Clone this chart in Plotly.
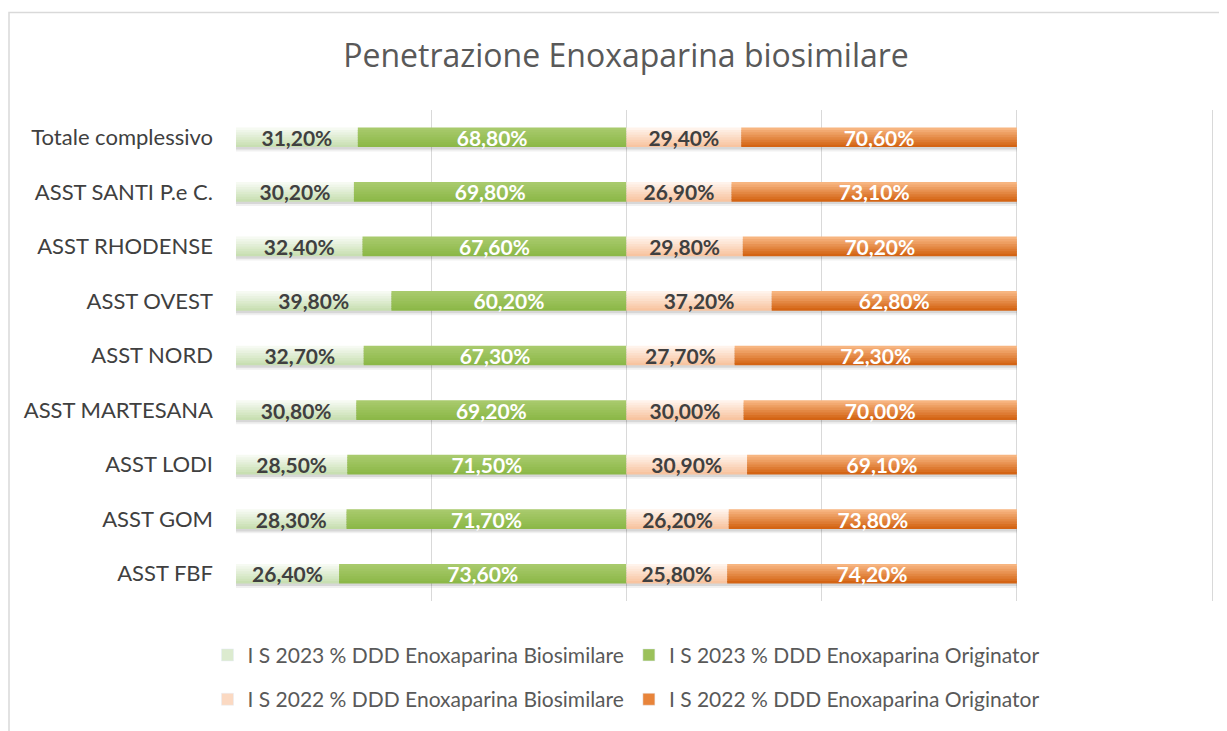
import plotly.graph_objects as go

categories = ["Totale complessivo", "ASST SANTI P.e C.", "ASST RHODENSE", "ASST OVEST",
              "ASST NORD", "ASST MARTESANA", "ASST LODI", "ASST GOM", "ASST FBF"]
bio_2023 = [31.2, 30.2, 32.4, 39.8, 32.7, 30.8, 28.5, 28.3, 26.4]
orig_2023 = [68.8, 69.8, 67.6, 60.2, 67.3, 69.2, 71.5, 71.7, 73.6]
bio_2022 = [29.4, 26.9, 29.8, 37.2, 27.7, 30.0, 30.9, 26.2, 25.8]
orig_2022 = [70.6, 73.1, 70.2, 62.8, 72.3, 70.0, 69.1, 73.8, 74.2]

series_names = ["I S 2023 % DDD Enoxaparina Biosimilare", "I S 2023 % DDD Enoxaparina Originator",
                "I S 2022 % DDD Enoxaparina Biosimilare", "I S 2022 % DDD Enoxaparina Originator"]
series_vals = [bio_2023, orig_2023, bio_2022, orig_2022]
# gradient (top colour, bottom colour)
grad = [((246, 250, 242), (200, 223, 178)),
        ((168, 202, 108), (140, 184, 72)),
        ((255, 243, 235), (248, 196, 160)),
        ((247, 181, 128), (212, 100, 20))]
legend_col = ["#DCEBCF", "#9BC15A", "#FBD9C2", "#E8843A"]
label_col = ["#404040", "#FFFFFF", "#404040", "#FFFFFF"]
legend_ids = ["legend", "legend", "legend2", "legend2"]

FONT = "Lato"
W = 0.36
NB = 8

fig = go.Figure()

bases = []
cum = [0.0] * len(categories)
for vals in series_vals:
    bases.append(list(cum))
    cum = [c + v for c, v in zip(cum, vals)]
totals = cum

# soft shadow under bars
for off, a in [(0.045, 0.10), (0.08, 0.06)]:
    fig.add_trace(go.Bar(y=categories, x=totals, base=[0] * len(categories), orientation="h",
                         width=W, offset=-W / 2 + off,
                         marker=dict(color=f"rgba(0,0,0,{a})", line=dict(width=0)),
                         showlegend=False, hoverinfo="skip"))

# gradient bars built from horizontal bands
for s, (vals, base) in enumerate(zip(series_vals, bases)):
    top, bot = grad[s]
    for k in range(NB):
        t = k / (NB - 1)
        c = tuple(round(top[i] + (bot[i] - top[i]) * t) for i in range(3))
        extra = 0.015 if k < NB - 1 else 0.0
        fig.add_trace(go.Bar(y=categories, x=vals, base=base, orientation="h",
                             width=W / NB + extra, offset=-W / 2 + k * W / NB,
                             marker=dict(color=f"rgb{c}", line=dict(width=0)),
                             showlegend=False, hoverinfo="skip"))

# value labels
for s, (vals, base) in enumerate(zip(series_vals, bases)):
    txt = [f"{v:.2f}%".replace(".", ",") for v in vals]
    fig.add_trace(go.Bar(y=categories, x=vals, base=base, orientation="h",
                         width=W, offset=-W / 2,
                         marker=dict(color="rgba(0,0,0,0)", line=dict(width=0)),
                         text=txt, textposition="inside", insidetextanchor="middle",
                         constraintext="none",
                         textfont=dict(family=FONT, size=21, color=label_col[s], weight="bold"),
                         showlegend=False, hoverinfo="skip"))

# legend entries
for s in range(4):
    fig.add_trace(go.Bar(y=[None], x=[None], orientation="h", name=series_names[s],
                         marker=dict(color=legend_col[s]), legend=legend_ids[s],
                         showlegend=True))

PW = 980  # plot-area width in px
LEG_X = (626 - 236) / PW
fig.update_layout(
    width=1219, height=723,
    barmode="overlay",
    paper_bgcolor="white", plot_bgcolor="white",
    margin=dict(l=228, r=1219 - 228 - PW, t=102, b=123),
    font=dict(family=FONT, color="#595959"),
    title=dict(text="Penetrazione Enoxaparina biosimilare", x=618 / 1219, xanchor="center",
               y=1 - 48 / 723, yanchor="middle",
               font=dict(family="Open Sans", size=32, color="#595959")),
    xaxis=dict(range=[0, 251], dtick=50, tick0=0, showticklabels=False, showgrid=True,
               gridcolor="#D9D9D9", gridwidth=1, zeroline=False, showline=False, fixedrange=True),
    yaxis=dict(autorange="reversed", showgrid=False, zeroline=False, showline=False,
               ticks="", ticklabelstandoff=22,
               tickfont=dict(family=FONT, size=22, color="#404040")),
    legend=dict(orientation="h", x=LEG_X, xanchor="center",
                y=(608 - 663) / 498, yanchor="middle",
                font=dict(family=FONT, size=21, color="#595959"), traceorder="normal"),
    legend2=dict(orientation="h", x=LEG_X, xanchor="center",
                 y=(608 - 708) / 498, yanchor="middle",
                 font=dict(family=FONT, size=21, color="#595959"), traceorder="normal"),
    shapes=[dict(type="rect", xref="paper", yref="paper",
                 x0=(9 - 236) / PW, x1=1.2, y0=-0.4, y1=(608 - 11) / 498,
                 line=dict(color="#D9D9D9", width=1.5), fillcolor="rgba(0,0,0,0)", layer="below")],
)

fig.write_html("out.html")
